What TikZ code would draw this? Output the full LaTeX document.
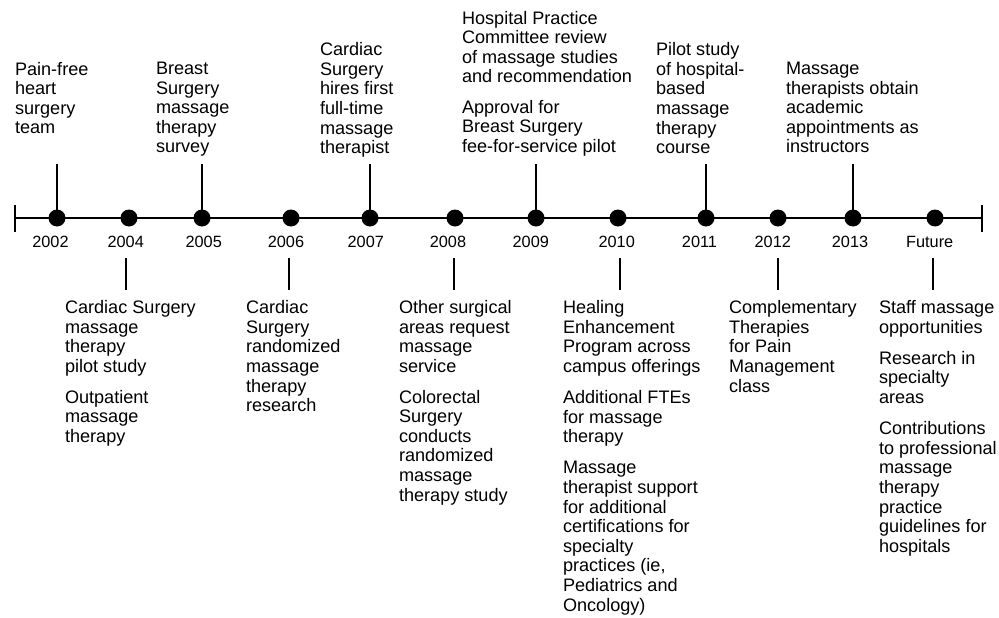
\documentclass[tikz,border=0pt]{standalone}
\usepackage{fontspec}
\setmainfont{Liberation Sans}
\begin{document}
\begin{tikzpicture}[x=1pt,y=-1pt,
  txt/.style={anchor=north west,inner sep=0pt,outer sep=0pt,align=left,font=\fontsize{18.1}{19.6}\selectfont},
  yr/.style={inner sep=0pt,anchor=base,font=\fontsize{16.3}{18}\selectfont},
  dot/.style={circle,fill=black,inner sep=0pt,minimum size=17pt},
  axis/.style={line width=2.8pt},
  stem/.style={line width=2.4pt}]
\useasboundingbox[fill=white] (0,0) rectangle (999,618);
% axis
\coordinate (L) at (15,218);
\coordinate (R) at (982,218);
\coordinate (Lt) at (15,205); \coordinate (Lb) at (15,232);
\coordinate (Rt) at (982,205); \coordinate (Rb) at (982,232);
\draw[axis] (L) -- (R);
\draw[stem] (Lt) -- (Lb);
\draw[stem] (Rt) -- (Rb);
% dots
\foreach \n/\x in {2002/57,2004/129,2005/202,2006/291,2007/370,2008/455,2009/536,2010/618,2011/706,2012/778,2013/853,F/935}
  \node[dot] (d\n) at (\x,218) {};
% years
\node[yr] (y2002) at (50.5,247) {2002};
\node[yr] (y2004) at (125.7,247) {2004};
\node[yr] (y2005) at (203.7,247) {2005};
\node[yr] (y2006) at (286,247) {2006};
\node[yr] (y2007) at (365.8,247) {2007};
\node[yr] (y2008) at (448,247) {2008};
\node[yr] (y2009) at (530.8,247) {2009};
\node[yr] (y2010) at (616.7,247) {2010};
\node[yr] (y2011) at (699.5,247) {2011};
\node[yr] (y2012) at (772.8,247) {2012};
\node[yr] (y2013) at (850,247) {2013};
\node[yr] (yF) at (929.7,247) {Future};
% top stems
\foreach \n/\x in {2002/57,2005/202,2007/370,2009/536,2011/706,2013/853}{
  \coordinate (t\n) at (\x,164);
  \draw[stem] (d\n.center) -- (t\n);
}
% bottom stems
\foreach \n/\x in {2004/126,2006/289,2008/454,2010/620,2012/778,F/933}{
  \coordinate (ba\n) at (\x,258);
  \coordinate (bb\n) at (\x,290);
  \draw[stem] (ba\n) -- (bb\n);
}
% top texts
\node[txt] (x2002) at (15,62) {Pain-free\\heart\\surgery\\team};
\node[txt] (x2005) at (156,62) {Breast\\Surgery\\massage\\therapy\\survey};
\node[txt] (x2007) at (320,42.5) {Cardiac\\Surgery\\hires first\\full-time\\massage\\therapist};
\node[txt] (x2009) at (462,11) {Hospital Practice\\Committee review\\of massage studies\\and recommendation\\[10.5pt]Approval for\\Breast Surgery\\fee-for-service pilot};
\node[txt] (x2011) at (656,42.5) {Pilot study\\of hospital-\\based\\massage\\therapy\\course};
\node[txt] (x2013) at (786,62) {Massage\\therapists obtain\\academic\\appointments as\\instructors};
% bottom texts
\node[txt] (x2004) at (65,300.5) {Cardiac Surgery\\massage\\therapy\\pilot study\\[11pt]Outpatient\\massage\\therapy};
\node[txt] (x2006) at (246,300.5) {Cardiac\\Surgery\\randomized\\massage\\therapy\\research};
\node[txt] (x2008) at (399,300.5) {Other surgical\\areas request\\massage\\service\\[11pt]Colorectal\\Surgery\\conducts\\randomized\\massage\\therapy study};
\node[txt] (x2010) at (563,300.5) {Healing\\Enhancement\\Program across\\campus offerings\\[11.5pt]Additional FTEs\\for massage\\therapy\\[11.5pt]Massage\\therapist support\\for additional\\certifications for\\specialty\\practices (ie,\\Pediatrics and\\Oncology)};
\node[txt] (x2012) at (729,300.5) {Complementary\\Therapies\\for Pain\\Management\\class};
\node[txt] (xF) at (879,300.5) {Staff massage\\opportunities\\[11.5pt]Research in\\specialty\\areas\\[11.5pt]Contributions\\to professional\\massage\\therapy\\practice\\guidelines for\\hospitals};
\end{tikzpicture}
\end{document}
